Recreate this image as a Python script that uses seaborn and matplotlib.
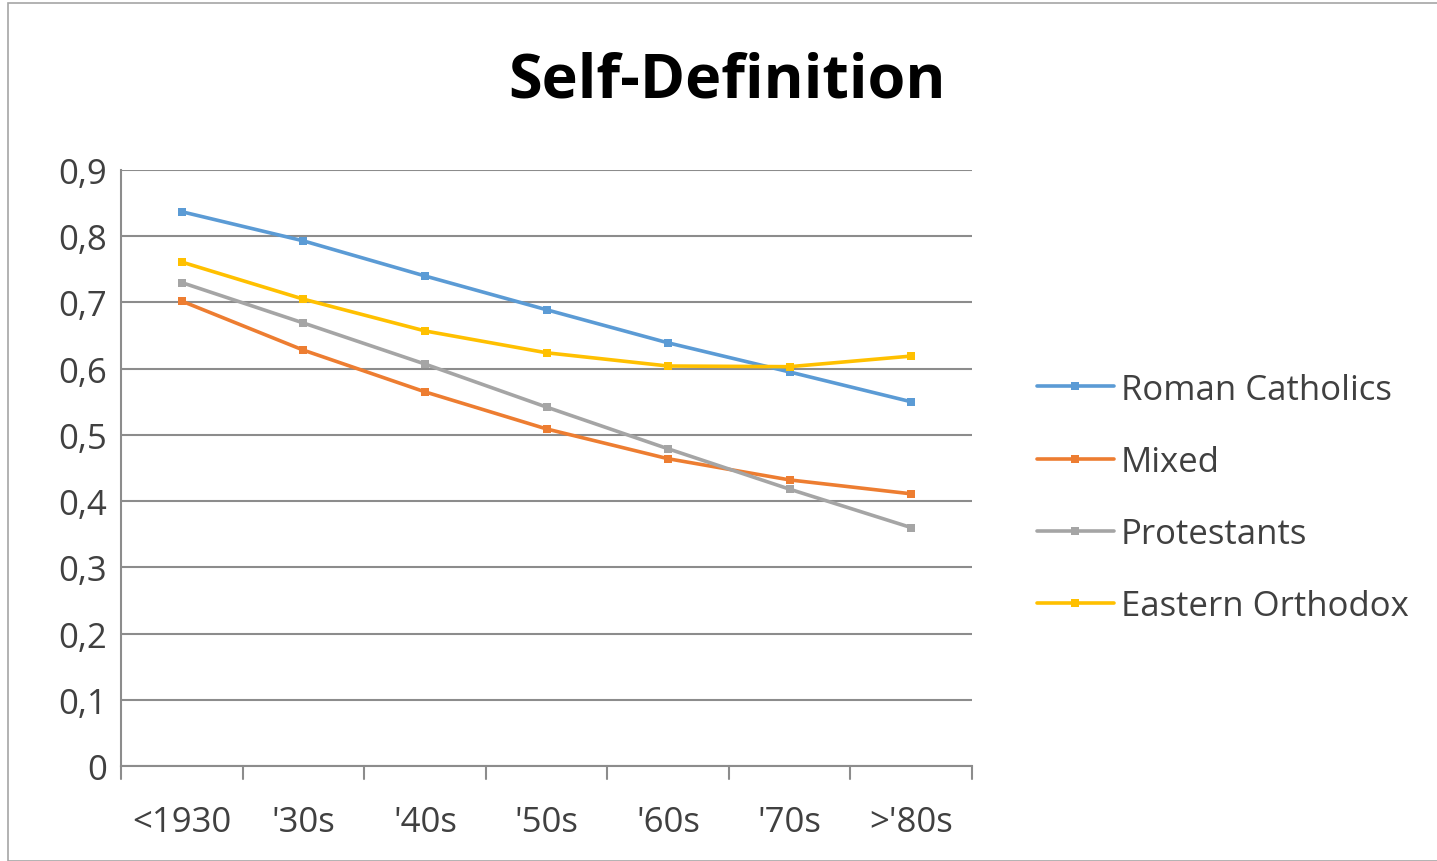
import matplotlib
matplotlib.use("Agg")
import matplotlib.pyplot as plt
import matplotlib.patches as mpatches
import seaborn as sns
import pandas as pd

decades = ["<1930", "'30s", "'40s", "'50s", "'60s", "'70s", ">'80s"]
roman_catholics = [0.837, 0.793, 0.740, 0.689, 0.639, 0.595, 0.550]
mixed = [0.702, 0.628, 0.565, 0.509, 0.464, 0.432, 0.411]
protestants = [0.730, 0.669, 0.607, 0.542, 0.479, 0.418, 0.360]
eastern_orthodox = [0.761, 0.705, 0.657, 0.624, 0.604, 0.603, 0.619]

series_names = ["Roman Catholics", "Mixed", "Protestants", "Eastern Orthodox"]
series_values = [roman_catholics, mixed, protestants, eastern_orthodox]
colors = ["#5B9BD5", "#ED7D31", "#A5A5A5", "#FFC000"]

y_ticks = [0, 0.1, 0.2, 0.3, 0.4, 0.5, 0.6, 0.7, 0.8, 0.9]
y_labels = ["0", "0,1", "0,2", "0,3", "0,4", "0,5", "0,6", "0,7", "0,8", "0,9"]

rows = []
for name, vals in zip(series_names, series_values):
    for i, v in enumerate(vals):
        rows.append({"idx": i, "value": v, "series": name})
df = pd.DataFrame(rows)

sns.set_theme(style="white")
plt.rcParams["font.family"] = ["Open Sans", "DejaVu Sans"]

fig = plt.figure(figsize=(14.37, 8.62), dpi=100)
ax = fig.add_axes([121 / 1437, 1 - 767 / 862, (972 - 121) / 1437, (767 - 171) / 862])

# outer chart frame
fig.patches.append(mpatches.Rectangle((8 / 1437, 0), 1.0, 1 - 4 / 862,
                                      transform=fig.transFigure, fill=False,
                                      edgecolor="#A6A6A6", linewidth=1.2))

sns.lineplot(data=df, x="idx", y="value", hue="series", hue_order=series_names,
             palette=colors, marker="s", markersize=6, markeredgewidth=0,
             linewidth=2.6, ax=ax, legend=True)

ax.set_xlim(-0.5, 6.5)
ax.set_ylim(0, 0.9)
ax.set_yticks(y_ticks)
ax.set_yticklabels(y_labels, fontsize=25, color="#404040")
ax.set_xticks(range(len(decades)))
ax.set_xticklabels(decades, fontsize=25, color="#404040")
ax.tick_params(axis="y", length=0, pad=10)
ax.tick_params(axis="x", length=0, pad=28)

# category boundary ticks below the axis
for b in [i - 0.5 for i in range(len(decades) + 1)]:
    ax.plot([b, b], [0, -0.02], color="#8C8C8C", lw=1.5, clip_on=False,
            transform=ax.transData)

ax.grid(axis="y", color="#8C8C8C", linewidth=1.5)
ax.set_axisbelow(True)
for s in ["top", "right"]:
    ax.spines[s].set_visible(False)
ax.spines["left"].set_color("#8C8C8C")
ax.spines["left"].set_linewidth(1.5)
ax.spines["bottom"].set_color("#8C8C8C")
ax.spines["bottom"].set_linewidth(1.5)
ax.set_xlabel("")
ax.set_ylabel("")

handles, labels = ax.get_legend_handles_labels()
ax.legend(handles, labels, loc="center left", bbox_to_anchor=(1.04, 0.45),
          frameon=False, fontsize=25, handlelength=2.2, labelspacing=1.1,
          handletextpad=0.2, labelcolor="#404040")

fig.text(727 / 1437, 1 - 82 / 862, "Self-Definition", ha="center", va="center",
         fontsize=44, fontweight="bold", color="black")

fig.savefig("out.png", dpi=100, facecolor="white")
